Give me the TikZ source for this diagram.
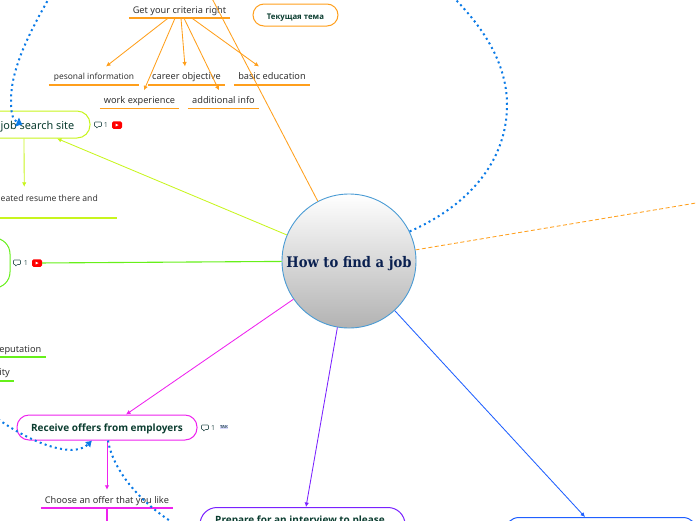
\documentclass[tikz,border=0pt]{standalone}
\usepackage{fontspec}
\usepackage{xcolor}
\usepackage{tikz}
\usetikzlibrary{arrows.meta,positioning}
\setmainfont{Noto Sans}
\newfontfamily\hubfont{DejaVu Serif Condensed}
\newfontfamily\headfont{Open Sans}
\definecolor{critorange}{HTML}{FF9F1C}
\definecolor{sitelime}{HTML}{C8F51E}
\definecolor{videogreen}{HTML}{66F01A}
\definecolor{offerpink}{HTML}{EE22EE}
\definecolor{prepviolet}{HTML}{7A22FF}
\definecolor{lastblue}{HTML}{2060FF}
\definecolor{dotblue}{HTML}{0A7AE6}
\definecolor{hubline}{HTML}{4A9BD4}
\definecolor{hubtext}{HTML}{0A2050}
\definecolor{darkgreen}{HTML}{0B3D30}
\definecolor{labelgrey}{HTML}{333333}
\definecolor{notegrey}{HTML}{3F5F5F}

\begin{document}
\begin{tikzpicture}[
    x=1pt, y=-1pt,
    hub/.style={circle, draw=hubline, line width=0.9pt, top color=white, bottom color=black!30, minimum size=134pt, inner sep=0pt, font=\hubfont\bfseries\fontsize{14.6}{16}\selectfont, text=hubtext, text height=12pt, text depth=0pt},
    topicbox/.style={rounded corners=#1, fill=white, line width=1pt, align=center, inner sep=0pt, text=darkgreen, text height=9pt, text depth=1pt},
    leaf/.style={minimum height=18pt, inner sep=0pt, font=\fontsize{9.2}{10}\selectfont, text=labelgrey, text height=9pt, text depth=1pt},
    underl/.style={line width=1.5pt},
    link/.style={line width=0.85pt, -{Latex[length=4.5pt,width=4.5pt]}},
    dots/.style={draw=dotblue, line width=2pt, dash pattern=on 2pt off 3.3pt},
    count/.style={inner sep=0pt, font=\fontsize{7}{8}\selectfont, text=notegrey},
    ytube/.style={fill=red, rounded corners=1.5pt, minimum width=10pt, minimum height=7.5pt, inner sep=0pt},
    note/.pic={\draw[notegrey, line width=0.6pt, rounded corners=0.8pt] (-3.5,-3) -- (3.5,-3) -- (3.5,1.5) -- (0,1.5) -- (-1.5,3.5) -- (-1.5,1.5) -- (-3.5,1.5) -- cycle;}
]
\clip (0,0) rectangle (696,520);

% central topic
\node[hub] (job) at (349,261) {How to find a job};

% current topic marker
\node[topicbox=11pt, draw=critorange, minimum width=85pt, minimum height=22pt, font=\headfont\bfseries\fontsize{7.8}{8}\selectfont] (current) at (295.5,15) {Текущая тема};

% criteria branch
\node[leaf] (crit) at (179.5,9) [minimum width=101pt] {Get your criteria right};
\node[leaf, font=\fontsize{8.4}{10}\selectfont] (pes) at (94,75.7) [minimum width=90pt] {pesonal information};
\node[leaf] (car) at (186.5,75.7) [minimum width=77pt] {career objective};
\node[leaf] (edu) at (272,75.7) [minimum width=76pt] {basic education};
\node[leaf] (wrk) at (139.5,99.5) [minimum width=79pt] {work experience};
\node[leaf] (add) at (223.5,99.5) [minimum width=71pt] {additional info};
\coordinate (critup) at (205,-15);

\draw[critorange, underl] (crit.south west) -- (crit.south east);
\draw[critorange, underl] (pes.south west) -- (pes.south east);
\draw[critorange, underl] (car.south west) -- (car.south east);
\draw[critorange, underl] (edu.south west) -- (edu.south east);
\draw[critorange, underl] (wrk.south west) -- (wrk.south east);
\draw[critorange, underl] (add.south west) -- (add.south east);

\draw[critorange, line width=0.85pt] (job) -- (critup);
\draw[link, critorange] ([xshift=-11.5pt]crit.south) -- ([xshift=12pt]pes.north);
\draw[link, critorange] ([xshift=-4.5pt]crit.south) -- ([xshift=4.5pt]wrk.north);
\draw[link, critorange] ([xshift=1.5pt]crit.south) -- ([xshift=-1.5pt]car.north);
\draw[link, critorange] ([xshift=4.5pt]crit.south) -- ([xshift=-4.5pt]add.north);
\draw[link, critorange] ([xshift=12.5pt]crit.south) -- ([xshift=-13pt]edu.north);

% job search site branch
\node[topicbox=13pt, draw=sitelime, minimum width=105pt, minimum height=27pt, font=\fontsize{10.9}{12}\selectfont, text height=10pt] (site) at (37.5,124.5) {job search site};
\node[leaf, anchor=east, font=\fontsize{8.6}{10}\selectfont] (res) at (98,197) {eated resume there and};
\coordinate (resline) at (0,218);
\coordinate (resend) at (117,218);
\draw[sitelime, underl] (resline) -- (resend);
\draw[link, sitelime] (job) -- ([xshift=19.5pt]site.south);
\draw[link, sitelime] ([xshift=-13.5pt]site.south) -- ([xshift=-25pt,yshift=1pt]res.north);

% video branch
\node[topicbox=16pt, draw=videogreen, minimum width=80pt, minimum height=50pt] (vid) at (-30,263) {};
\node[leaf, anchor=east] (rep) at (41.5,348) {eputation};
\node[leaf, anchor=east] (ity) at (10,371) {ity};
\coordinate (repa) at (0,357);
\coordinate (repb) at (46,357);
\coordinate (itya) at (0,381);
\coordinate (ityb) at (14,381);
\draw[videogreen, underl] (repa) -- (repb);
\draw[videogreen, underl] (itya) -- (ityb);

% offers branch
\node[topicbox=12pt, draw=offerpink, minimum width=180pt, minimum height=25pt, font=\headfont\bfseries\fontsize{10}{11}\selectfont] (rec) at (107,427.5) {Receive offers from employers};
\node[leaf, minimum width=132pt] (cho) at (107,499) {Choose an offer that you like};
\coordinate (chodown) at (107,530);
\draw[offerpink, underl] (cho.south west) -- (cho.south east);
\draw[link, offerpink] (job) -- ([xshift=19pt]rec.north);
\draw[link, offerpink] (rec) -- (cho);
\draw[offerpink, underl] (cho.south) -- (chodown);

% cut off at the bottom
\node[topicbox=17pt, draw=prepviolet, minimum width=205pt, minimum height=34pt, anchor=north, font=\headfont\bfseries\fontsize{10}{11}\selectfont, text height=7pt, text depth=10pt] (pre) at (302.5,507) {\hspace{-5pt}Prepare for an interview to please};
\node[topicbox=14pt, draw=lastblue, minimum width=192pt, minimum height=34pt, anchor=north] (bas) at (601,517) {};
\draw[link, prepviolet] (job) -- ([xshift=3.5pt]pre.north);
\draw[link, lastblue] (job) -- ([xshift=-16pt]bas.north);

% free orange branch
\coordinate (offr) at (708,201);
\draw[critorange, line width=0.85pt, dash pattern=on 4pt off 2.5pt] (job) -- (offr);

% dotted relations
\coordinate (offa) at (-6,416);
\coordinate (offb) at (185,530);
\draw[dots, -{Latex[length=6pt,width=11pt]}] (job.26) .. controls (470,205) and (507,160) .. (507,105) .. controls (507,65) and (485,30) .. (456,0) .. controls (400,-60) and (100,-120) .. (48,0) .. controls (28,35) and (11,70) .. (11,100) .. controls (11,112) and (12,120) .. ([xshift=-15pt]site.center);
\draw[dots, -{Latex[length=6pt,width=8pt]}] (offa) .. controls (25,440) and (72,460) .. ([xshift=-15pt]rec.south);
\draw[dots] ([xshift=1pt]rec.south) .. controls (113,470) and (140,505) .. (offb);

% green line and its icons
\node[count, notegrey] (vidone) at (26,263) {1};
\node[ytube] (vidyt) at (37,263) {};
\draw[videogreen, line width=1.1pt] (job) -- (vidyt);
\pic at (17,263) {note};
\fill[white] (35.5,261.5) -- (35.5,264.5) -- (38.5,263) -- cycle;

% site icons
\pic at (98,125) {note};
\node[count] (siteone) at (106,125) {1};
\node[ytube] (siteyt) at (117,125) {};
\fill[white] (115.5,123.5) -- (115.5,126.5) -- (118.5,125) -- cycle;

% offers icons
\pic at (205,428) {note};
\node[count] (recone) at (213,428) {1};
\node[fill=blue!15, inner sep=0.5pt, font=\headfont\bfseries\fontsize{4.2}{5}\selectfont, text=notegrey] (rectak) at (224,427) {ТАК};
\end{tikzpicture}
\end{document}
